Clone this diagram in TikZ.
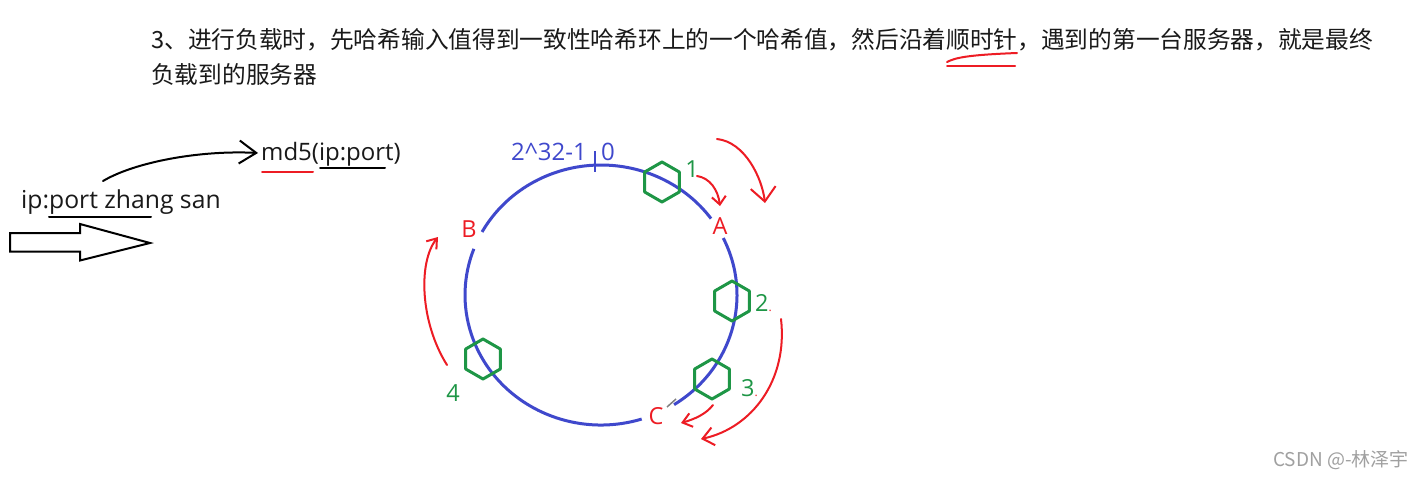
\documentclass[tikz,border=0pt]{standalone}
\usepackage{fontspec}
\setmainfont{Open Sans}
\newfontfamily\cjk{Noto Sans CJK SC}
\usetikzlibrary{arrows.meta}
\definecolor{ringblue}{RGB}{63,72,204}
\definecolor{mkred}{RGB}{237,28,36}
\definecolor{hexgreen}{RGB}{30,150,70}
\definecolor{txt}{RGB}{25,25,25}
\definecolor{wmgray}{RGB}{160,160,160}
\begin{document}
\begin{tikzpicture}[x=1pt,y=-1pt,
  ring/.style={draw=ringblue,line width=3pt},
  hexa/.style={draw=hexgreen,line width=3pt,line join=round},
  redpen/.style={draw=mkred,line width=2pt,line cap=round,line join=round},
  blackpen/.style={draw=black,line width=2pt,line cap=round,line join=round},
  lbl/.style={inner sep=0pt,font=\fontsize{23.5}{28}\selectfont},
  glbl/.style={lbl,text=hexgreen},
  rlbl/.style={lbl,text=mkred},
  title/.style={inner sep=0pt,anchor=base west,text=txt,font=\cjk\fontsize{23.7}{28}\selectfont},
]
\useasboundingbox (0,0) rectangle (1426,482);
\fill[white] (0,0) rectangle (1426,482);

% title
\node[title] (t1) at (151,48) {3、进行负载时，先哈希输入值得到一致性哈希环上的一个哈希值，然后沿着顺时针，遇到的第一台服务器，就是最终};
\node[title] (t2) at (151,83) {负载到的服务器};
\coordinate (sq1) at (947,62);
\coordinate (sq2) at (1017,53);
\coordinate (sq3) at (947,66);
\coordinate (sq4) at (1015,66);
\draw[redpen] (sq1) .. controls (955,58) and (965,55) .. (sq2);
\draw[redpen] (sq3) -- (sq4);

% left side
\node[inner sep=0pt,anchor=base west,text=txt,font=\fontsize{24.7}{28}\selectfont] (ipz) at (21,208) {ip:port zhang san};
\node[inner sep=0pt,anchor=base west,text=txt,font=\fontsize{24}{28}\selectfont] (md5) at (261,160) {md5(ip:port)};
\coordinate (u1a) at (49,217); \coordinate (u1b) at (151,217);
\draw[blackpen] (u1a) -- (u1b);
\coordinate (u2a) at (262,172); \coordinate (u2b) at (313,172);
\draw[redpen] (u2a) -- (u2b);
\coordinate (u3a) at (320,168); \coordinate (u3b) at (385,168);
\draw[blackpen] (u3a) -- (u3b);
\coordinate (bs) at (103,181);
\coordinate (be) at (258,153);
\draw[blackpen,-{Straight Barb[length=17pt,width=23pt,line width=2pt]}] (bs) .. controls (135,162) and (200,150) .. (be);
\draw[line width=2pt,line join=miter] (10,233) -- (80,233) -- (80,224) -- (150,243) -- (80,260.5) -- (80,251.5) -- (10,251.5) -- cycle;

% ring
\coordinate (ctr) at (601,295);
\draw[ring] (ctr) ++(-151:136 and 130) arc[start angle=-151,end angle=-36,x radius=136,y radius=130];
\draw[ring] (ctr) ++(-26:136 and 130) arc[start angle=-26,end angle=57.5,x radius=136,y radius=130];
\draw[ring] (ctr) ++(72.6:136 and 130) arc[start angle=72.6,end angle=200.8,x radius=136,y radius=130];
\coordinate (tk1) at (595,151); \coordinate (tk2) at (595,172);
\draw[ringblue,line width=2.5pt] (tk1) -- (tk2);
\node[inner sep=0pt,anchor=base west,text=ringblue,font=\fontsize{24}{28}\selectfont] (hmax) at (511,160) {2\textasciicircum32-1};
\node[inner sep=0pt,anchor=base west,text=ringblue,font=\fontsize{24}{28}\selectfont] (hzero) at (601,160) {0};
\draw[gray,line width=1.5pt] (667,407) -- (676,399);

% hexagons
\coordinate (h1) at (662,182);
\coordinate (h2) at (732,301);
\coordinate (h3) at (712,379);
\coordinate (h4) at (483,359);
\foreach \n in {h1,h2,h3,h4}{
  \draw[hexa] (\n) +(90:20) -- +(150:20) -- +(210:20) -- +(270:20) -- +(330:20) -- +(30:20) -- cycle;
}

% labels
\node[rlbl] (B) at (469,229.5) {B};
\node[rlbl] (A) at (720,226) {A};
\node[rlbl] (C) at (656,416.5) {C};
\node[glbl] (n1) at (692,169.5) {1};
\node[glbl,anchor=base west] (n2) at (755,311) {2{\color{mkred}\fontsize{12}{12}\selectfont.}};
\node[glbl,anchor=base west] (n3) at (741,396) {3{\color{mkred}\fontsize{12}{12}\selectfont.}};
\node[glbl] (n4) at (453,393.5) {4};

% red arrows
\coordinate (a1s) at (717,139); \coordinate (a1e) at (765,203);
\draw[redpen,-{Straight Barb[length=14pt,width=25pt,line width=2pt]}] (a1s) .. controls (745,142) and (762,178) .. (a1e);
\coordinate (a2s) at (697,176); \coordinate (a2e) at (720,206);
\draw[redpen,-{Straight Barb[length=8pt,width=14pt,line width=2pt]}] (a2s) .. controls (710,178) and (718,190) .. (a2e);
\coordinate (a3s) at (447,365); \coordinate (a3e) at (438,237);
\draw[redpen,-{Straight Barb[length=9pt,width=13pt,line width=2pt]}] (a3s) .. controls (420,322) and (418,262) .. (a3e);
\coordinate (a4s) at (781,319); \coordinate (a4e) at (701,439);
\draw[redpen,-{Straight Barb[length=11pt,width=18pt,line width=2pt]}] (a4s) .. controls (788,380) and (752,428) .. (a4e);
\coordinate (a5s) at (713,405); \coordinate (a5e) at (681,423);
\draw[redpen,-{Straight Barb[length=9pt,width=14pt,line width=2pt]}] (a5s) .. controls (706,414) and (695,419) .. (a5e);

% watermark
\node[inner sep=0pt,text=wmgray,font=\cjk\fontsize{19}{22}\selectfont] (wm) at (1341,460) {CSDN @-林泽宇};
\end{tikzpicture}
\end{document}
